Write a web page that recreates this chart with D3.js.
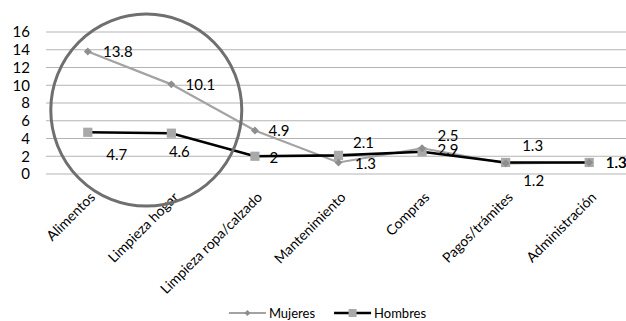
<!DOCTYPE html>
<html>
<head>
<meta charset="utf-8">
<script src="https://cdn.jsdelivr.net/npm/d3@7"></script>
<style>
  html, body { margin: 0; padding: 0; background: #fff; }
  svg { display: block; font-family: Lato, "Open Sans", sans-serif; }
</style>
</head>
<body>
<svg id="chart" width="626" height="321"></svg>
<script>
// Categories of domestic tasks
const categories = ["Alimentos", "Limpieza hogar", "Limpieza ropa/calzado", "Mantenimiento", "Compras", "Pagos/trámites", "Administración"];
// Hours per series
const mujeres = [13.8, 10.1, 4.9, 1.3, 2.9, 1.2, 1.3];
const hombres = [4.7, 4.6, 2, 2.1, 2.5, 1.3, 1.3];
const yTicks = [0, 2, 4, 6, 8, 10, 12, 14, 16];
const seriesNames = ["Mujeres", "Hombres"];

// Label placement (pixel offsets from each point, label centre)
const mujeresLabelOffset = [[30, 0], [29, 0], [24, 0], [27, 1], [26, 1], [28, 17], [27, 0]];
const hombresLabelOffset = [[29, 22], [8, 18], [19, 1], [25, -13], [26, -16], [27, -17], [27, 0]];

const svg = d3.select("#chart");

const x = d3.scalePoint().domain(categories).range([46, 631]).padding(0.5);
const y = d3.scaleLinear().domain([0, 16]).range([174, 32]);

// Gridlines
svg.append("g")
  .selectAll("line")
  .data(yTicks)
  .join("line")
  .attr("x1", 46).attr("x2", 631)
  .attr("y1", d => y(d)).attr("y2", d => y(d))
  .attr("stroke", "#b4b4b4")
  .attr("stroke-width", 1);

// Y axis tick labels
svg.append("g")
  .selectAll("text")
  .data(yTicks)
  .join("text")
  .attr("x", 30)
  .attr("y", d => y(d))
  .attr("dy", "0.36em")
  .attr("text-anchor", "end")
  .attr("font-size", 15)
  .attr("fill", "#000")
  .text(d => d);

// Category labels, rotated
svg.append("g")
  .selectAll("g")
  .data(categories)
  .join("g")
  .attr("transform", d => `translate(${x(d) + 1},${191}) rotate(-45)`)
  .append("text")
  .attr("text-anchor", "end")
  .attr("dy", "0.72em")
  .attr("font-size", 14)
  .attr("fill", "#000")
  .text(d => d);

const line = d3.line()
  .x((d, i) => x(categories[i]))
  .y(d => y(d));

// Mujeres line
svg.append("path")
  .datum(mujeres)
  .attr("fill", "none")
  .attr("stroke", "#a3a3a3")
  .attr("stroke-width", 2.2)
  .attr("d", line);

// Hombres line
svg.append("path")
  .datum(hombres)
  .attr("fill", "none")
  .attr("stroke", "#000")
  .attr("stroke-width", 2.6)
  .attr("d", line);

// Hombres square markers
svg.append("g")
  .selectAll("rect")
  .data(hombres)
  .join("rect")
  .attr("x", (d, i) => x(categories[i]) - 4.6)
  .attr("y", d => y(d) - 4.6)
  .attr("width", 9.2)
  .attr("height", 9.2)
  .attr("fill", "#a9a9a9");

// Mujeres diamond markers
const diamond = d3.symbol().type(d3.symbolDiamond2).size(40);
svg.append("g")
  .selectAll("path")
  .data(mujeres)
  .join("path")
  .attr("transform", (d, i) => `translate(${x(categories[i])},${y(d)})`)
  .attr("d", diamond)
  .attr("fill", "#8e8e8e");

// Value labels
function addLabels(values, offsets) {
  svg.append("g")
    .selectAll("text")
    .data(values)
    .join("text")
    .attr("x", (d, i) => x(categories[i]) + offsets[i][0])
    .attr("y", (d, i) => y(d) + offsets[i][1])
    .attr("dy", "0.36em")
    .attr("text-anchor", "middle")
    .attr("font-size", 15)
    .attr("fill", "#000")
    .text(d => String(d));
}
addLabels(mujeres, mujeresLabelOffset);
addLabels(hombres, hombresLabelOffset);

// Highlight ring around the first two categories
const step = x.step();
svg.append("ellipse")
  .attr("cx", x(categories[0]) + 0.7 * step)
  .attr("cy", y(7.2))
  .attr("rx", 95.5)
  .attr("ry", 96)
  .attr("fill", "none")
  .attr("stroke", "#6f6f6f")
  .attr("stroke-width", 3);

// Legend
const legend = svg.append("g");
const legendY = 313;
const items = legend.selectAll("g")
  .data(seriesNames)
  .join("g");
items.append("text")
  .attr("class", "lt")
  .attr("dy", "0.36em")
  .attr("font-size", 13)
  .attr("fill", "#000")
  .text(d => d);
const widths = [];
items.selectAll("text.lt").each(function () { widths.push(this.getComputedTextLength()); });
const lineLen = 37, gap = 3, itemGap = 19;
const total = widths.reduce((a, w) => a + lineLen + gap + w, 0) + itemGap;
let cursor = 327.5 - total / 2;
items.each(function (d, i) {
  const g = d3.select(this).attr("transform", `translate(${cursor},${legendY})`);
  g.insert("line", "text")
    .attr("x1", 0).attr("x2", lineLen)
    .attr("stroke", i === 0 ? "#a3a3a3" : "#000")
    .attr("stroke-width", i === 0 ? 2.2 : 2.6);
  if (i === 0) {
    g.insert("path", "text")
      .attr("transform", `translate(${lineLen / 2},0)`)
      .attr("d", d3.symbol().type(d3.symbolDiamond2).size(24))
      .attr("fill", "#8e8e8e");
  } else {
    g.insert("rect", "text")
      .attr("x", lineLen / 2 - 4).attr("y", -4)
      .attr("width", 8).attr("height", 8)
      .attr("fill", "#a9a9a9");
  }
  g.select("text").attr("x", lineLen + gap);
  cursor += lineLen + gap + widths[i] + itemGap;
});
</script>
</body>
</html>
